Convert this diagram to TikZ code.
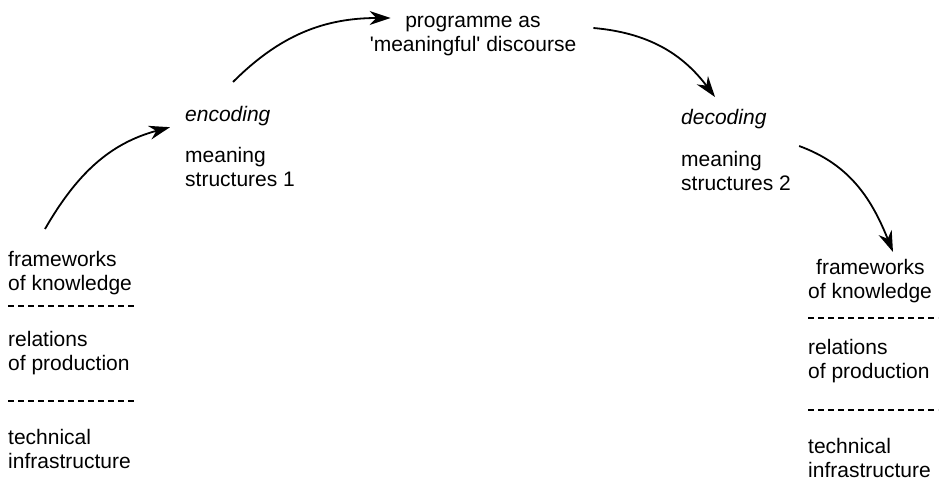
\documentclass[tikz,border=0pt]{standalone}
\usepackage{fontspec}
\setmainfont{Liberation Sans}
\usetikzlibrary{arrows.meta}
\tikzset{
  txt/.style={anchor=north west, inner sep=0pt, align=left,
    font=\fontsize{21}{24}\selectfont},
  flow/.style={line width=1.8pt, -{Stealth[length=21pt,width=14pt]}},
  sep/.style={line width=1.2pt, dash pattern=on 6pt off 4pt}
}
\begin{document}
\begin{tikzpicture}[x=1pt,y=1pt]
  \useasboundingbox (0,0) rectangle (945,482);
  \node[txt] (lfw) at (8,232) {\strut frameworks\\of knowledge};
  \node[txt] (lrel) at (8,152) {\strut relations\\of production};
  \node[txt] (ltech) at (8,55) {\strut technical\\infrastructure};
  \coordinate (ls1a) at (8,176);
  \coordinate (ls1b) at (137,176);
  \coordinate (ls2a) at (8,81);
  \coordinate (ls2b) at (137,81);
  \draw[sep] (ls1a) -- (ls1b);
  \draw[sep] (ls2a) -- (ls2b);

  \node[txt] (enc) at (185,377) {\strut\itshape encoding};
  \node[txt] (ms1) at (185,336) {\strut meaning\\structures 1};
  \node[txt, anchor=north, align=center] (prog) at (473,471)
    {\strut programme as\\\textquotesingle meaningful\textquotesingle{} discourse};
  \node[txt] (dec) at (681,374) {\strut\itshape decoding};
  \node[txt] (ms2) at (681,332) {\strut meaning\\structures 2};

  \node[txt] (rfw) at (808,224) {\strut\hspace*{8pt}frameworks\\of knowledge};
  \node[txt] (rrel) at (808,144) {\strut relations\\of production};
  \node[txt] (rtech) at (808,46) {\strut technical\\infrastructure};
  \coordinate (rs1a) at (808,164);
  \coordinate (rs1b) at (938,164);
  \coordinate (rs2a) at (808,72);
  \coordinate (rs2b) at (938,72);
  \draw[sep] (rs1a) -- (rs1b);
  \draw[sep] (rs2a) -- (rs2b);

  \draw[flow] ([xshift=37pt,yshift=21pt]lfw.north west) to[out=60,in=195]
    ([xshift=-15pt,yshift=-10pt]enc.west);
  \draw[flow] ([xshift=48pt,yshift=23pt]enc.north west) to[out=45,in=180]
    ([xshift=21pt,yshift=-7pt]prog.north west);
  \draw[flow] ([xshift=17pt,yshift=-17pt]prog.north east) to[out=-5,in=127]
    ([xshift=34pt,yshift=11pt]dec.north west);
  \draw[flow] ([xshift=8pt,yshift=4pt]ms2.north east) to[out=-20,in=112]
    ([xshift=85pt,yshift=6pt]rfw.north west);
\end{tikzpicture}
\end{document}
